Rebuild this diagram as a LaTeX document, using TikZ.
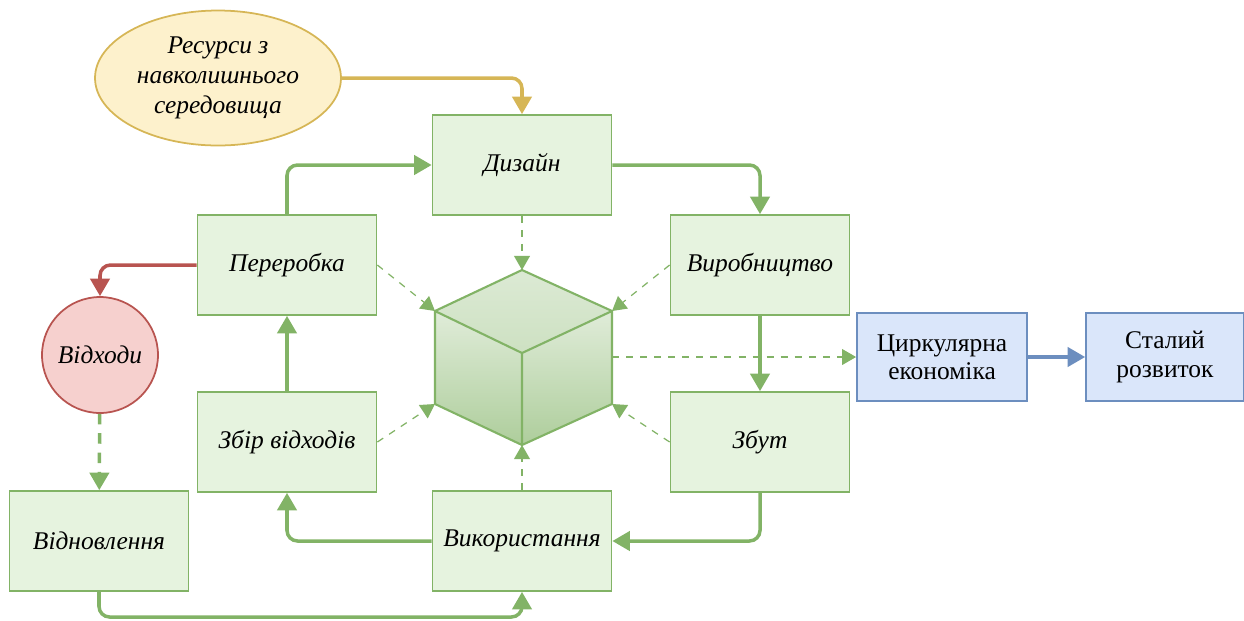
\documentclass[tikz,border=0pt]{standalone}
\usepackage{fontspec}
\setmainfont{Liberation Serif}
\usetikzlibrary{arrows.meta,shapes.geometric}

\definecolor{boxgreen}{HTML}{E6F3DF}
\definecolor{linegreen}{HTML}{82B366}
\definecolor{boxred}{HTML}{F6D0CE}
\definecolor{linered}{HTML}{B85450}
\definecolor{boxyellow}{HTML}{FDF1CC}
\definecolor{lineyellow}{HTML}{D6B656}
\definecolor{boxblue}{HTML}{DAE6FA}
\definecolor{lineblue}{HTML}{6C8EBF}

\tikzstyle{stage} = [rectangle, draw=linegreen, fill=boxgreen, line width=1pt, text centered, minimum width=3.58cm, minimum height=2cm, font=\fontsize{14.5}{17}\selectfont\itshape]
\tikzstyle{goal} = [rectangle, draw=lineblue, fill=boxblue, line width=1pt, align=center, minimum height=1.76cm, font=\fontsize{14.5}{16}\selectfont]
\tikzstyle{flow} = [draw=linegreen, line width=2pt, rounded corners=6pt, -{Triangle[length=10pt,width=11pt]}]
\tikzstyle{hint} = [draw=linegreen, line width=0.7pt, dash pattern=on 4pt off 4pt, -{Triangle[length=8pt,width=9pt]}]

\begin{document}
\begin{tikzpicture}[x=0.02cm, y=-0.02cm]
        \useasboundingbox (0,0) rectangle (1244,620);
        % resources
        \node[ellipse, draw=lineyellow, fill=boxyellow, line width=1pt, minimum width=4.8cm, minimum height=2.7cm, align=center, font=\fontsize{14.5}{17}\selectfont\itshape] (res) at (218,78) {Ресурси з\\навколишнього\\середовища};
        % cycle
        \node[stage] (dyz) at (522,165) {Дизайн};
        \node[stage] (vyrob) at (760,265) {Виробництво};
        \node[stage] (zbut) at (760,442) {Збут};
        \node[stage] (vykor) at (522,541) {Використання};
        \node[stage] (zbir) at (287,442) {Збір відходів};
        \node[stage] (perer) at (287,265) {Переробка};
        % waste
        \node[circle, draw=linered, fill=boxred, line width=1pt, minimum size=2.32cm, font=\fontsize{14.5}{17}\selectfont\itshape] (vidkh) at (100,355) {Відходи};
        \node[stage] (vidnov) at (99,541) {Відновлення};
        % result
        \node[goal, minimum width=3.4cm] (circ) at (942,357) {Циркулярна\\економіка};
        \node[goal, minimum width=3.16cm] (stal) at (1165,357) {Сталий\\розвиток};

        % cube
        \coordinate (cT) at (522,270);
        \coordinate (cUL) at (435,311);
        \coordinate (cUR) at (612,311);
        \coordinate (cC) at (522,353);
        \coordinate (cLL) at (435,404);
        \coordinate (cB) at (522,445);
        \coordinate (cLR) at (612,404);
        \coordinate (cR) at (612,357);
        \fill[top color=linegreen!25, bottom color=linegreen!65] (cUL) -- (cC) -- (cB) -- (cLL) -- cycle;
        \fill[top color=linegreen!25, bottom color=linegreen!65] (cUR) -- (cC) -- (cB) -- (cLR) -- cycle;
        \fill[top color=linegreen!28, bottom color=linegreen!40] (cT) -- (cUR) -- (cC) -- (cUL) -- cycle;
        \draw[linegreen, line width=1.2pt, line join=round] (cT) -- (cUR) -- (cLR) -- (cB) -- (cLL) -- (cUL) -- cycle (cUL) -- (cC) -- (cUR) (cC) -- (cB);

        % connectors
        \coordinate (loopb) at (300,617);
        \draw[flow, draw=lineyellow] (res.east) -| (dyz.north);
        \draw[flow] (perer.north) |- (dyz.west);
        \draw[flow] (dyz.east) -| (vyrob.north);
        \draw[flow] (vyrob) -- (zbut);
        \draw[flow] (zbut.south) |- (vykor.east);
        \draw[flow] (vykor.west) -| (zbir.south);
        \draw[flow] (zbir) -- (perer);
        \draw[flow, draw=linered] (perer.west) -| (vidkh.north);
        \draw[flow, dash pattern=on 6pt off 5pt] (vidkh) -- (vidnov);
        \draw[flow] (vidnov.south) |- (loopb) -| (vykor.south);
        \draw[flow, draw=lineblue] (circ) -- (stal);

        % links to the cube
        \draw[hint] (dyz) -- (cT);
        \draw[hint] (perer.east) -- (cUL);
        \draw[hint] (vyrob.west) -- (cUR);
        \draw[hint] (zbir.east) -- (cLL);
        \draw[hint] (zbut.west) -- (cLR);
        \draw[hint] (vykor) -- (cB);
        \draw[hint] (cR) -- (circ);
    \end{tikzpicture}
\end{document}
